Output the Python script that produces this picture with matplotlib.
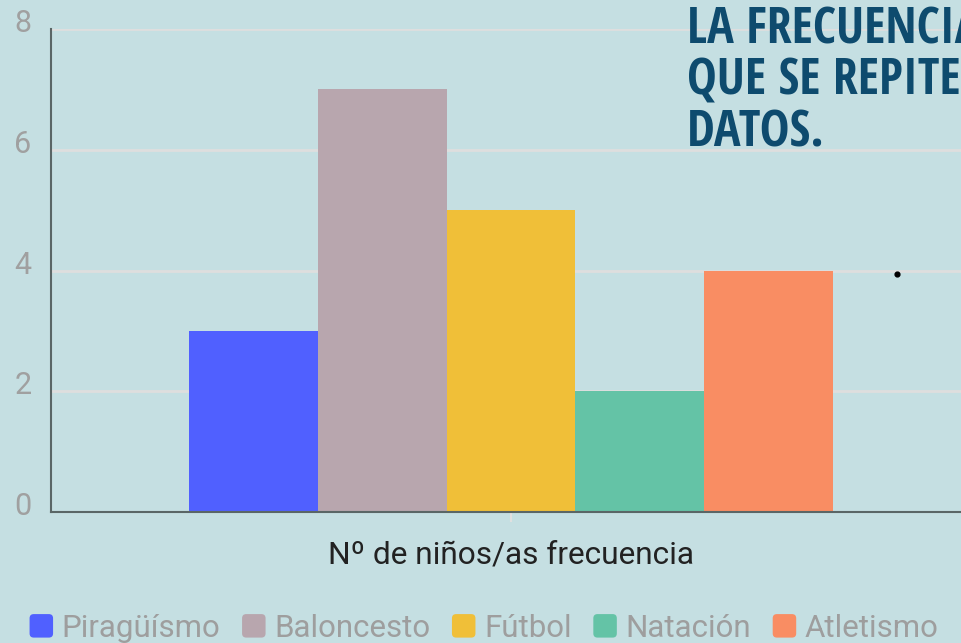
import matplotlib
matplotlib.use("Agg")
import matplotlib.pyplot as plt
import matplotlib.transforms as mtransforms
from matplotlib.patches import FancyBboxPatch, Rectangle
from matplotlib.legend_handler import HandlerPatch
from matplotlib import font_manager

categories = ["Piragüísmo", "Baloncesto", "Fútbol", "Natación", "Atletismo"]
values = [3, 7, 5, 2, 4]
colors = ["#5060ff", "#b8a6ae", "#f0bf38", "#64c3a6", "#f98d63"]
x_label = "Nº de niños/as frecuencia"
y_ticks = [0, 2, 4, 6, 8]
title_text = "LA FRECUENCIA CON LA\nQUE SE REPITEN LOS\nDATOS."
dot_x, dot_y = [0.42], [3.94]

BG = "#c5dfe2"
plt.rcParams["font.family"] = ["Roboto", "DejaVu Sans"]

fig = plt.figure(figsize=(9.62, 6.43), dpi=100, facecolor=BG)
ax = fig.add_axes([51/962, 1-512/643, 920/962, (512-29)/643])
ax.set_facecolor(BG)

w = 0.1402
n = len(categories)
for i, (c, v, col) in enumerate(zip(categories, values, colors)):
    ax.bar((i - (n-1)/2) * w, v, width=w, color=col, label=c, zorder=3)

ax.scatter(dot_x, dot_y, s=12, color="black", zorder=4)

ax.set_xlim(-0.5, 0.5)
ax.set_ylim(0, 8)
ax.set_yticks(y_ticks)
ax.set_yticklabels([str(t) for t in y_ticks])
ax.tick_params(axis="y", length=0, labelsize=22, labelcolor="#a0a0a0", pad=14)
shift = mtransforms.ScaledTranslation(0, -3/100, fig.dpi_scale_trans)
for lab in ax.get_yticklabels():
    lab.set_va("baseline")
    lab.set_transform(lab.get_transform() + shift)
ax.set_xticks([0])
ax.set_xticklabels([""])
ax.tick_params(axis="x", length=7, width=1.5, color="#e0e0e0", direction="out")
ax.grid(axis="y", color="#dedede", linewidth=2, zorder=1)
ax.set_axisbelow(True)
for s in ["top", "right"]:
    ax.spines[s].set_visible(False)
for s in ["left", "bottom"]:
    ax.spines[s].set_color("#5a6666")
    ax.spines[s].set_linewidth(1.5)
    ax.spines[s].set_zorder(5)

ax.set_xlabel(x_label, fontsize=22.8, color="#222222")
ax.xaxis.label.set_va("baseline")
ax.xaxis.set_label_coords(0.5, (512-563)/483)


class RoundHandler(HandlerPatch):
    def create_artists(self, legend, orig_handle, xdescent, ydescent, width, height, fontsize, trans):
        s = min(width, height)
        p = FancyBboxPatch((-xdescent + (width - s)/2 + 1.5, -ydescent + (height - s)/2 + 1.5),
                           s - 3, s - 3, boxstyle="round,pad=1.5,rounding_size=3",
                           facecolor=orig_handle.get_facecolor(), edgecolor="none", transform=trans)
        return [p]


handles = [Rectangle((0, 0), 1, 1, facecolor=col) for col in colors]
leg = fig.legend(handles, categories, loc="lower center", bbox_to_anchor=(0.503, -0.019), ncol=5,
                 frameon=False, fontsize=22.5, handlelength=0.78, handleheight=0.78,
                 handletextpad=0.26, columnspacing=0.68, labelcolor="#9e9e9e",
                 borderaxespad=0, handler_map={Rectangle: RoundHandler()})

tfam = None
for cand in ["Liberation Sans Narrow", "DejaVu Sans Condensed", "Open Sans Condensed"]:
    try:
        font_manager.findfont(font_manager.FontProperties(family=cand), fallback_to_default=False)
        tfam = cand
        break
    except Exception:
        pass
if tfam is None:
    tprops = dict(family=["DejaVu Sans"], fontstretch="condensed")
else:
    tprops = dict(family=[tfam, "DejaVu Sans"])
fig.text(687/962, 1-146/643, title_text, ha="left", va="baseline", fontsize=36, fontweight="bold",
         color="#0e4b6e", linespacing=1.035, **tprops)

fig.savefig("out.png", dpi=100, facecolor=BG)
